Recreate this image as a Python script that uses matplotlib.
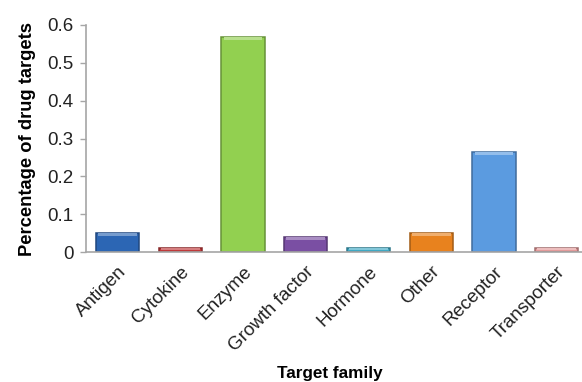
import matplotlib.pyplot as plt
import matplotlib.colors as mcolors
from matplotlib.transforms import ScaledTranslation

families = ['Antigen', 'Cytokine', 'Enzyme', 'Growth factor', 'Hormone',
            'Other', 'Receptor', 'Transporter']
shares = [0.05, 0.01, 0.567, 0.04, 0.01, 0.05, 0.265, 0.01]
colors = ['#2c66b4', '#c0393a', '#92d050', '#7a4fa3', '#3fa9c4',
          '#e8821e', '#5b9be0', '#e39a9a']

plt.rcParams['font.family'] = ['Liberation Sans', 'DejaVu Sans']

fig = plt.figure(figsize=(5.82, 3.82), dpi=100)
ax = fig.add_axes([0.148, 0.340, 0.8625, 0.5947])

x = list(range(len(families)))
edges = [tuple(c * 0.7 for c in mcolors.to_rgb(col)) for col in colors]
lights = [tuple(c + (1 - c) * 0.35 for c in mcolors.to_rgb(col)) for col in colors]
ax.bar(x, shares, width=0.69, color=colors, edgecolor=edges, linewidth=1.1, zorder=2)
# light bevel along the top of each bar
cap = [min(0.008, v * 0.4) for v in shares]
ax.bar(x, cap, bottom=[v - c for v, c in zip(shares, cap)], width=0.62,
       color=lights, linewidth=0, zorder=3)

ax.set_xlim(-0.5, len(families) - 0.5)
ax.set_ylim(0, 0.6)
ax.set_yticks([0, 0.1, 0.2, 0.3, 0.4, 0.5, 0.6])
ax.set_yticklabels(['0', '0.1', '0.2', '0.3', '0.4', '0.5', '0.6'])
ax.set_xticks(x)
ax.set_xticklabels(families, rotation=45, ha='right', rotation_mode='anchor')
shift = ScaledTranslation(-5 / 72, -6 / 72, fig.dpi_scale_trans)
for lbl in ax.get_xticklabels():
    lbl.set_transform(lbl.get_transform() + shift)

for s in ['top', 'right']:
    ax.spines[s].set_visible(False)
for s in ['left', 'bottom']:
    ax.spines[s].set_color('#a6a6a6')
    ax.spines[s].set_linewidth(1.2)

ax.tick_params(axis='y', labelsize=13.5, colors='#a6a6a6', labelcolor='#222222',
               length=4, width=1, pad=5)
ax.tick_params(axis='x', labelsize=13.5, length=0, labelcolor='#222222', pad=8)

ax.set_ylabel('Percentage of drug targets', fontsize=13.2, fontweight='bold', labelpad=8)
ax.set_xlabel('Target family', fontsize=12.3, fontweight='bold')
ax.xaxis.set_label_coords(0.486, -0.5)

fig.savefig('out.png', dpi=100)
